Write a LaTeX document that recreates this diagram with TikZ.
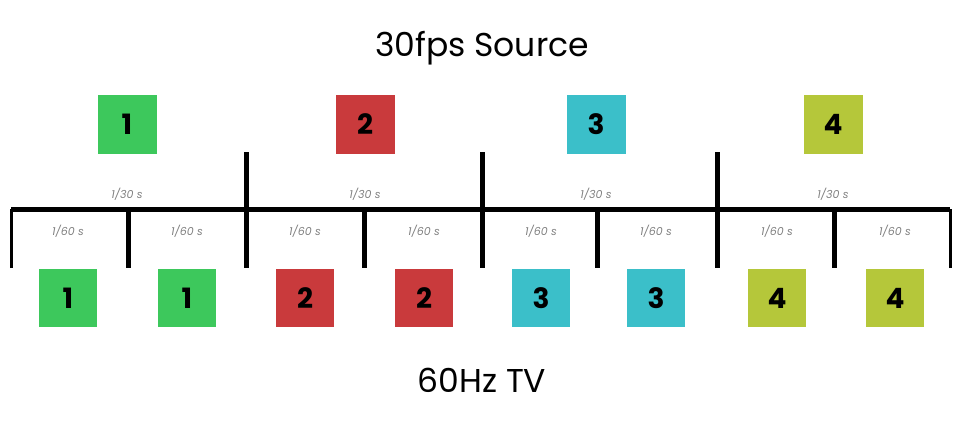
\documentclass[tikz,border=0pt]{standalone}
\usepackage{fontspec}
\setmainfont{Poppins}
\definecolor{cg}{HTML}{3DC85C}
\definecolor{cr}{HTML}{C93A3C}
\definecolor{cc}{HTML}{3BBFC9}
\definecolor{cy}{HTML}{B5C73A}
\tikzset{
  frame/.style={minimum size=59pt,inner sep=0pt,font=\fontsize{28}{28}\selectfont\bfseries},
  lab/.style={font=\fontsize{11}{11}\selectfont\itshape,text=gray},
  ttl/.style={font=\fontsize{33}{33}\selectfont},
  bar/.style={line width=5pt},
}
\begin{document}
\begin{tikzpicture}[x=1pt,y=-1pt]
\useasboundingbox (0,0) rectangle (960,421);
\node[ttl] (t1) at (482,48) {30fps Source};
\node[ttl] (t2) at (482,380) {60Hz TV};
\foreach \x/\c/\n [count=\i] in {127/cg/1,365/cr/2,596/cc/3,833/cy/4}{
  \node[frame,fill=\c] (s\i) at (\x,124) {\n};
  \node[lab] (h\i) at (\x,194) {1/30 s};
}
\foreach \x/\c/\n [count=\i] in {68/cg/1,187/cg/1,305/cr/2,424/cr/2,541/cc/3,656/cc/3,777/cy/4,895/cy/4}{
  \node[frame,minimum size=58pt,fill=\c] (b\i) at (\x,298) {\n};
  \node[lab] (q\i) at (\x,231) {1/60 s};
}
\coordinate (L0) at (11,209); \coordinate (L1) at (11,268);
\coordinate (R0) at (950,209); \coordinate (R1) at (950,268);
\draw[line width=3pt] (L1) -- (L0);
\draw[line width=3pt] (R1) -- (R0);
\draw[bar] (L0) -- (R0);
\foreach \x in {128,364,597,834}{\draw[bar] (\x,209) -- (\x,268);}
\foreach \x in {246,482,717}{\draw[bar] (\x,152) -- (\x,268);}
\end{tikzpicture}
\end{document}
